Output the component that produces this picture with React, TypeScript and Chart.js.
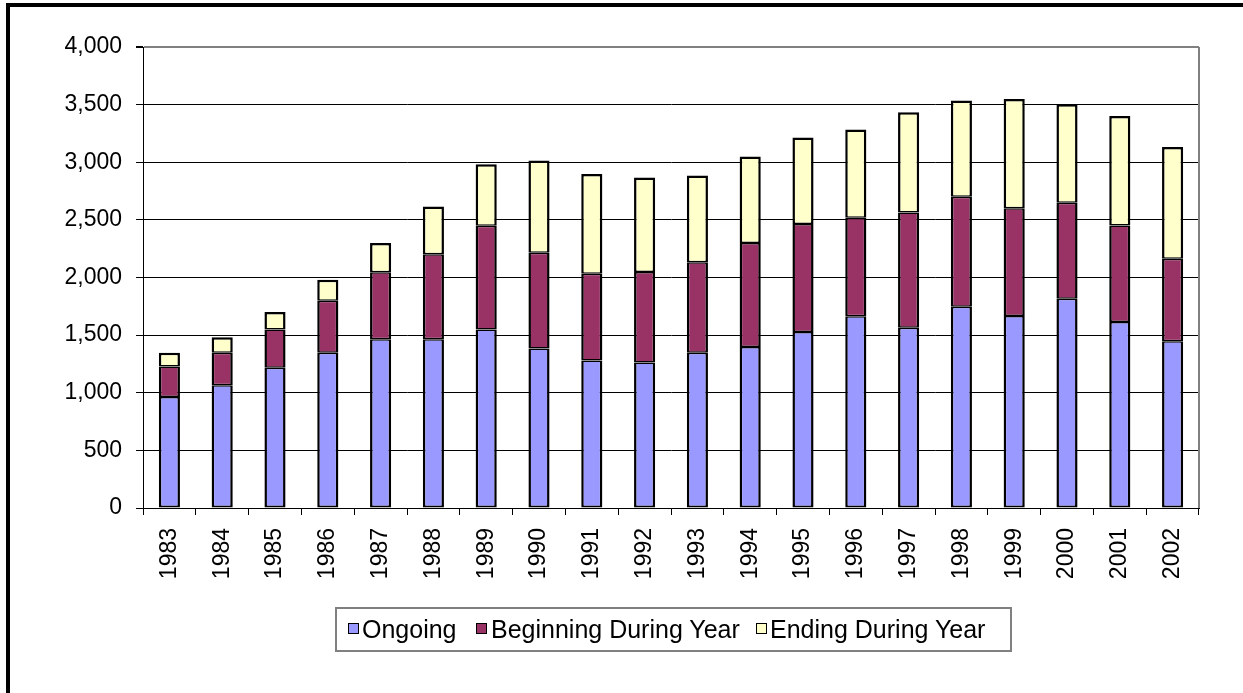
import React, { useEffect, useRef } from "react";
import { Chart, registerables } from "chart.js";

Chart.register(...registerables);

const years = ["1983","1984","1985","1986","1987","1988","1989","1990","1991","1992","1993","1994","1995","1996","1997","1998","1999","2000","2001","2002"];
const ongoing = [964,1066,1216,1348,1464,1464,1548,1383,1279,1262,1346,1398,1528,1664,1565,1747,1666,1816,1614,1447];
const beginning = [263,280,332,451,581,737,901,832,754,786,786,901,936,854,1000,953,934,832,838,716];
const ending = [121,136,153,182,254,416,534,800,866,820,753,751,751,766,869,835,949,855,950,970];
const seriesNames = ["Ongoing", "Beginning During Year", "Ending During Year"];
const seriesColors = ["#9999FF", "#993366", "#FFFFCC"];
const yMax = 4000;
const yStep = 500;

const FONT = "'Liberation Sans', Arial, sans-serif";

const frameRight = {
  id: "frameRight",
  afterDatasetsDraw(chart: any) {
    const { ctx, chartArea } = chart;
    ctx.save();
    ctx.strokeStyle = "#808080";
    ctx.lineWidth = 2;
    ctx.beginPath();
    ctx.moveTo(chartArea.right, chartArea.top);
    ctx.lineTo(chartArea.right, chartArea.bottom);
    ctx.stroke();
    ctx.restore();
  },
};

export default function App() {
  const ref = useRef<HTMLCanvasElement>(null);
  useEffect(() => {
    if (!ref.current) return;
    const chart = new Chart(ref.current, {
      type: "bar",
      data: {
        labels: years,
        datasets: [ongoing, beginning, ending].map((d, i) => ({
          label: seriesNames[i],
          data: d,
          backgroundColor: seriesColors[i],
          borderColor: "#000000",
          borderWidth: { left: 2.5, right: 2.5, top: i === 2 ? 2.5 : 1.5, bottom: i === 0 ? 2 : 1.5 },
          borderSkipped: false,
          barPercentage: 0.4,
          categoryPercentage: 1,
        })),
      },
      options: {
        animation: false,
        responsive: false,
        maintainAspectRatio: false,
        layout: { padding: { left: 0, right: 44, top: 47, bottom: 0 } },
        plugins: { legend: { display: false }, tooltip: { enabled: false } },
        scales: {
          x: {
            stacked: true,
            afterFit: (s: any) => { s.height = 185; },
            grid: { display: true, drawOnChartArea: false, tickLength: 7, color: "#000", lineWidth: 1, offset: true },
            border: { color: "#000", width: 1 },
            ticks: {
              autoSkip: false,
              minRotation: 90,
              maxRotation: 90,
              padding: 13,
              color: "#000",
              font: { family: FONT, size: 23 },
            },
          },
          y: {
            stacked: true,
            min: 0,
            max: yMax,
            afterFit: (s: any) => { s.width = 143; },
            grid: {
              color: (c: any) => (c.tick && c.tick.value === yMax ? "#808080" : "#000"),
              lineWidth: (c: any) => (c.tick && c.tick.value === yMax ? 2 : 1),
              tickColor: "#000",
              tickLength: 7,
            },
            border: { color: "#000", width: 1 },
            ticks: {
              stepSize: yStep,
              padding: 14,
              color: "#000",
              font: { family: FONT, size: 23 },
              callback: (v: any) => Number(v).toLocaleString("en-US"),
            },
          },
        },
      },
      plugins: [frameRight],
    });
    return () => chart.destroy();
  }, []);

  const legendItems = [
    { marker: 348, text: 362 },
    { marker: 476, text: 491 },
    { marker: 756, text: 770 },
  ];

  return (
    <div style={{ position: "fixed", left: 0, top: 0, width: 1243, height: 693, background: "#fff", overflow: "hidden" }}>
      <canvas ref={ref} width={1243} height={693} style={{ position: "absolute", left: 0, top: 0 }} />
      <div style={{ position: "absolute", left: 6, top: 3, width: 1237, height: 4, background: "#000" }} />
      <div style={{ position: "absolute", left: 6, top: 3, width: 4, height: 690, background: "#000" }} />
      <div style={{ position: "absolute", left: 335, top: 607, width: 677, height: 45, border: "2px solid #808080", boxSizing: "border-box" }} />
      {legendItems.map((it, i) => (
        <React.Fragment key={i}>
          <div style={{ position: "absolute", left: it.marker, top: 623, width: 11, height: 11, background: seriesColors[i], border: "1.5px solid #000", boxSizing: "border-box" }} />
          <span style={{ position: "absolute", left: it.text, top: 617, fontFamily: FONT, fontSize: 25, lineHeight: "24px", color: "#000", whiteSpace: "nowrap" }}>{seriesNames[i]}</span>
        </React.Fragment>
      ))}
    </div>
  );
}
